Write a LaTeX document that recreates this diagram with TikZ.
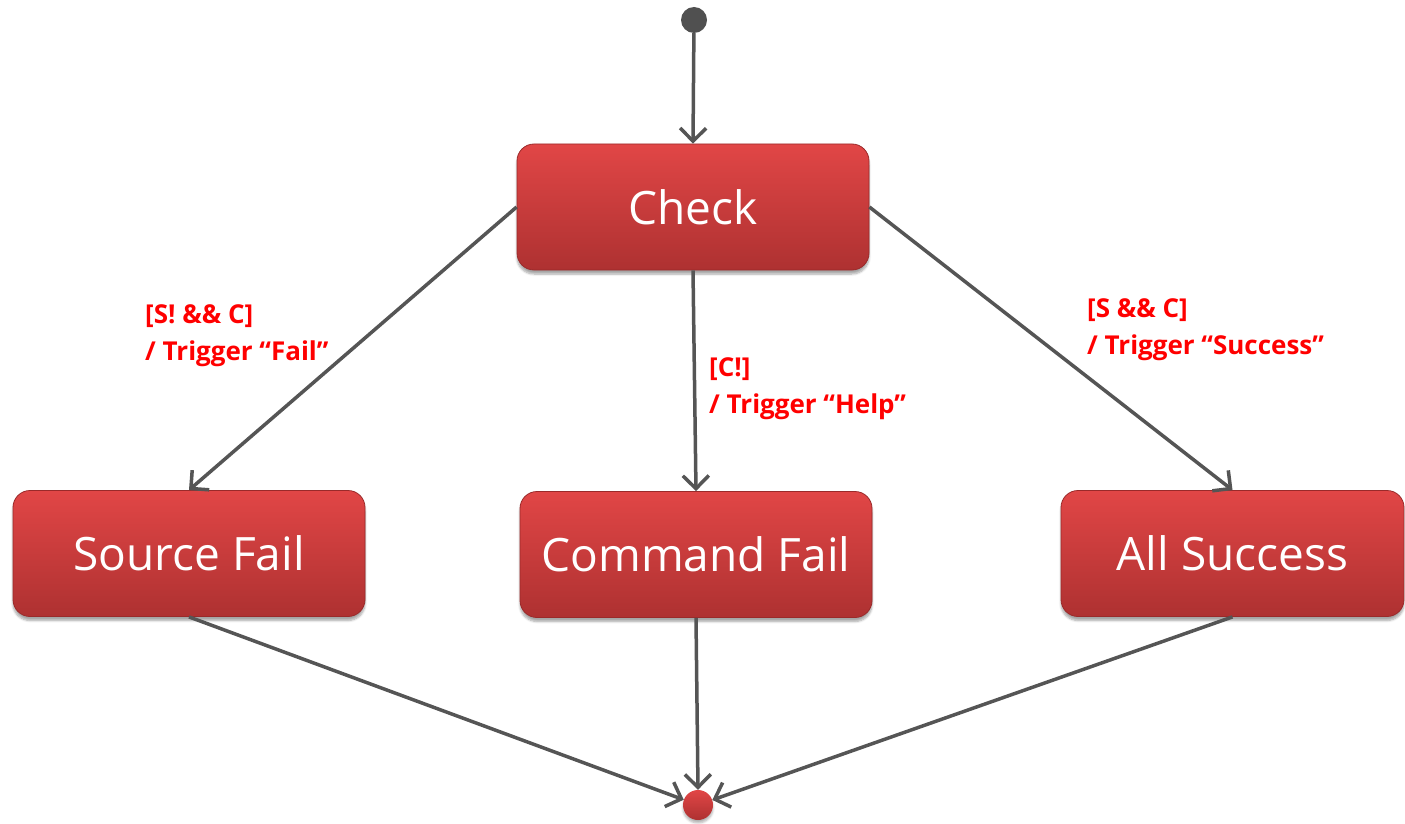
\documentclass[tikz,border=0pt]{standalone}
\usepackage{fontspec}
\setmainfont{Open Sans}
\usetikzlibrary{arrows.meta,shadows.blur}

\definecolor{linegray}{HTML}{555555}
\definecolor{boxtop}{HTML}{E14646}
\definecolor{boxbot}{HTML}{AE3131}
\definecolor{boxedge}{HTML}{9A2A2A}
\definecolor{guardred}{HTML}{FF0000}
\definecolor{startgray}{HTML}{505050}

\tikzset{
  state/.style={rectangle, rounded corners=17pt, draw=boxedge, line width=0.8pt,
    top color=boxtop, bottom color=boxbot, text=white,
    minimum width=352pt, minimum height=126pt, inner sep=0pt,
    font=\fontsize{46}{52}\selectfont,
    blur shadow={shadow xshift=0pt, shadow yshift=-4pt, shadow blur steps=6, shadow opacity=35}},
  flow/.style={draw=linegray, line width=3.5pt,
    -{Straight Barb[length=13pt, width=26pt, line width=3.5pt]}},
  guard/.style={text=guardred, font=\bfseries\fontsize{26}{37}\selectfont,
    align=left, anchor=base west, inner sep=0pt},
}

\begin{document}
\begin{tikzpicture}[x=1pt, y=-1pt]
  \useasboundingbox (0,0) rectangle (1405,824);

  % states
  \node[state] (check) at (693,207) {Check};
  \node[state] (src) at (189,553.5) {Source Fail};
  \node[state] (cmd) at (696,554.5) {Command Fail};
  \node[state, minimum width=343pt] (all) at (1232.5,553.5) {All Success};

  % initial and final pseudo-states
  \node[circle, fill=startgray, minimum size=26pt, inner sep=0pt] (start) at (694,20) {};
  \node[circle, top color=boxtop, bottom color=boxbot, minimum size=30pt, inner sep=0pt,
    blur shadow={shadow xshift=0pt, shadow yshift=-3pt, shadow blur steps=5, shadow opacity=30}]
    (final) at (698,805) {};

  % transitions
  \draw[flow] (start) -- (check.north);
  \draw[flow] (check.west) -- (src.north);
  \draw[flow] (check.south) -- (cmd.north);
  \draw[flow] (check.east) -- (all.north);
  \draw[flow] (src.south) -- (final);
  \draw[flow] (cmd.south) -- (final.north);
  \draw[flow] (all.south) -- (final);

  % guard / action labels (anchored on the baseline of the last line)
  \node[guard] (gfail) at (145,360) {[S! \&\& C]\\/ Trigger “Fail”};
  \node[guard] (ghelp) at (709,413) {[C!]\\/ Trigger “Help”};
  \node[guard] (gsucc) at (1087,354) {[S \&\& C]\\/ Trigger “Success”};
\end{tikzpicture}
\end{document}
